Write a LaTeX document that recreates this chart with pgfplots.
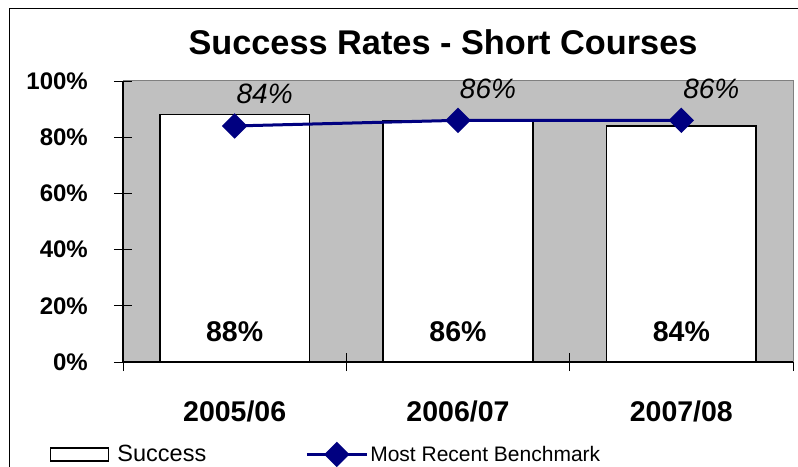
\documentclass[border=0pt]{standalone}
\usepackage{pgfplots}
\pgfplotsset{compat=1.18}
\usepackage{pgfplotstable}
\usepackage{fontspec}
\setmainfont{Liberation Sans}
\definecolor{plotgray}{RGB}{192,192,192}
\definecolor{bordergray}{RGB}{128,128,128}
\definecolor{bench}{RGB}{0,0,128}
\newcommand\fs[1]{\fontsize{#1}{#1}\selectfont}

\pgfplotsset{
  barlegend/.style={legend image code/.code={\draw[black, fill=white, line width=1.3pt] (0pt,-6.5pt) rectangle (58pt,6.5pt);}},
  linelegend/.style={legend image code/.code={\draw[##1, mark repeat=2, mark phase=2] plot coordinates {(0pt,0pt) (30pt,0pt) (60pt,0pt)};}},
  /pgf/number format/assume math mode=true,
}

\pgfplotstableread{
x year success bench
0 2005/06 88 84
1 2006/07 86 86
2 2007/08 84 86
}\rates

\begin{document}
\begin{tikzpicture}[x=1pt,y=1pt]
\useasboundingbox (0,0) rectangle (798,466);
\clip (0,0) rectangle (798,466);
\draw[line width=1.2pt] (9.5,-20) rectangle (830,457.5);
\node[anchor=base, font=\bfseries\fs{34.3}] at (443,411) {Success Rates - Short Courses};
\begin{axis}[
  at={(123pt,104pt)}, anchor=south west,
  scale only axis, width=670pt, height=281pt,
  xmin=-0.5, xmax=2.5, ymin=0, ymax=100,
  axis x line*=bottom, axis y line*=left,
  axis line style={line width=1.3pt},
  axis background/.style={fill=plotgray},
  tick align=center, major tick length=18pt, minor tick length=18pt,
  tick style={black, line width=0.8pt},
  xtick={0,1,2}, xticklabels from table={\rates}{year},
  major x tick style={draw=none},
  minor xtick={-0.5,0.5,1.5,2.5},
  xticklabel style={font=\bfseries\fs{28.5}, inner sep=0pt, anchor=north, yshift=-30pt},
  ytick={0,20,...,100},
  yticklabels={0\%,20\%,40\%,60\%,80\%,100\%},
  yticklabel style={font=\bfseries\fs{24}, inner sep=0pt, anchor=east, xshift=-26pt},
  legend style={draw=none, fill=none, at={(-0.109,-0.329)}, anchor=west,
    legend columns=2, inner sep=0pt,
    /tikz/every even column/.append style={column sep=97pt}},
  legend cell align=left,
  clip=false,
]
\addplot[ybar, bar width=0.67, draw=black, fill=white, line width=1.5pt, barlegend]
  table[x=x, y=success] {\rates};
\addlegendentry{\hspace{6pt}\fs{23.5}Success}
\addplot[bench, line width=3pt, mark=square*, mark size=7.5pt, mark options={rotate=45, solid},
  nodes near coords={\pgfmathprintnumber{\pgfplotspointmeta}\%},
  every node near coord/.append style={font=\itshape\fs{28}, text=black, anchor=base,
    inner sep=0pt, xshift=30pt, yshift=22pt},
  linelegend]
  table[x=x, y=bench] {\rates};
\addlegendentry{\fs{21}Most Recent Benchmark}
\addplot[only marks, mark=*, mark size=0pt, mark options={draw=none, fill=none}, forget plot,
  point meta=\thisrow{success},
  nodes near coords={\pgfmathprintnumber{\pgfplotspointmeta}\%},
  every node near coord/.append style={font=\bfseries\fs{28.5}, text=black, anchor=base,
    inner sep=0pt, yshift=21pt}]
  table[x=x, y expr=0] {\rates};
\draw[bordergray, line width=1pt] (rel axis cs:0,1) -- (rel axis cs:1,1) -- (rel axis cs:1,0);
\end{axis}
\end{tikzpicture}
\end{document}
